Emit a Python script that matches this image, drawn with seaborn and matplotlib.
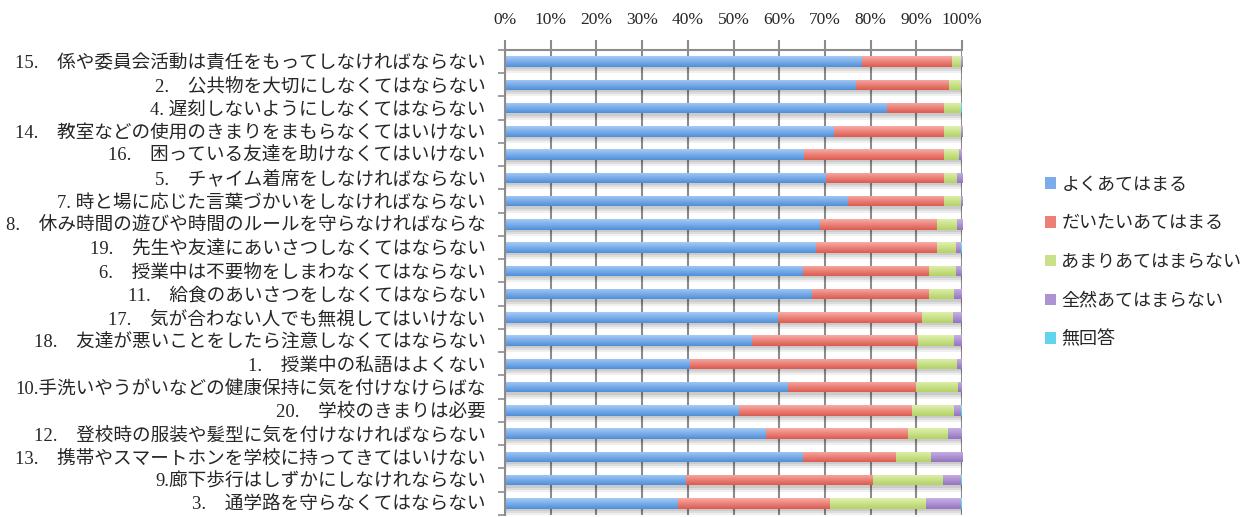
import numpy as np
import pandas as pd
import matplotlib
matplotlib.use("Agg")
import matplotlib.pyplot as plt
import matplotlib.patheffects as pe
from matplotlib.colors import LinearSegmentedColormap
from matplotlib.patches import Patch
import seaborn as sns

# Survey items, top to bottom
items = [
    "15.\u3000係や委員会活動は責任をもってしなければならない",
    "2.\u3000公共物を大切にしなくてはならない",
    "4. 遅刻しないようにしなくてはならない",
    "14.\u3000教室などの使用のきまりをまもらなくてはいけない",
    "16.\u3000困っている友達を助けなくてはいけない",
    "5.\u3000チャイム着席をしなければならない",
    "7. 時と場に応じた言葉づかいをしなければならない",
    "8.\u3000休み時間の遊びや時間のルールを守らなければならな",
    "19.\u3000先生や友達にあいさつしなくてはならない",
    "6.\u3000授業中は不要物をしまわなくてはならない",
    "11.\u3000給食のあいさつをしなくてはならない",
    "17.\u3000気が合わない人でも無視してはいけない",
    "18.\u3000友達が悪いことをしたら注意しなくてはならない",
    "1.\u3000授業中の私語はよくない",
    "10.手洗いやうがいなどの健康保持に気を付けなけらばな",
    "20.\u3000学校のきまりは必要",
    "12.\u3000登校時の服装や髪型に気を付けなければならない",
    "13.\u3000携帯やスマートホンを学校に持ってきてはいけない",
    "9.廊下歩行はしずかにしなけれならない",
    "3.\u3000通学路を守らなくてはならない",
]

# Response shares (%)
very_true = [78.0, 76.6, 83.4, 71.8, 65.3, 70.2, 75.0, 68.8, 68.0, 65.0,
             67.0, 59.7, 53.9, 40.4, 61.9, 51.2, 57.1, 65.0, 39.4, 37.7]
mostly_true = [19.7, 20.4, 12.5, 24.1, 30.6, 25.7, 20.9, 25.6, 26.4, 27.6,
               25.6, 31.4, 36.3, 49.6, 27.9, 37.7, 30.9, 20.4, 41.0, 33.2]
not_really = [1.9, 2.6, 3.7, 3.7, 3.3, 2.9, 3.7, 4.4, 4.1, 5.9,
              5.5, 6.8, 7.9, 8.8, 9.2, 9.2, 8.8, 7.7, 15.3, 21.1]
not_at_all = [0.4, 0.4, 0.1, 0.4, 0.8, 1.2, 0.4, 1.2, 1.2, 1.5,
              1.9, 2.1, 1.9, 1.2, 1.0, 1.6, 3.2, 6.9, 4.0, 7.7]
no_answer = [0.0, 0.0, 0.3, 0.0, 0.0, 0.0, 0.0, 0.0, 0.3, 0.0,
             0.0, 0.0, 0.0, 0.0, 0.0, 0.3, 0.0, 0.0, 0.3, 0.3]

series_names = ["よくあてはまる", "だいたいあてはまる", "あまりあてはまらない",
                "全然あてはまらない", "無回答"]
tick_values = list(range(0, 101, 10))
tick_labels = [f"{v}%" for v in tick_values]

# (top, bottom) shades for each series' vertical gradient
shades = [("#a6cbf8", "#4f8fd9"),
          ("#f8aca5", "#dc5a50"),
          ("#e0f1ae", "#b3d266"),
          ("#c8b1e5", "#9375c0"),
          ("#93e6f6", "#37c1e2")]
mid_colors = ["#7badea", "#eb8077", "#c9e28a", "#ad93d2", "#62d4ec"]

sns.set_style("white")
plt.rcParams["font.family"] = ["Liberation Serif", "Noto Sans CJK JP"]

df = pd.DataFrame({
    "item": items,
    series_names[0]: very_true,
    series_names[1]: mostly_true,
    series_names[2]: not_really,
    series_names[3]: not_at_all,
    series_names[4]: no_answer,
})
cum = df[series_names].cumsum(axis=1)

fig = plt.figure(figsize=(12.5, 5.17), dpi=100)
ax = fig.add_axes([505 / 1250, 2 / 517, 457 / 1250, 465 / 517])

bar_h = 0.46
grey = "#8c8c8c"

# Stacked bars: draw cumulative totals from the outermost series inward
for i in reversed(range(len(series_names))):
    name = series_names[i]
    n0 = len(ax.patches)
    layer = pd.DataFrame({"item": items, "end": cum[name].values})
    sns.barplot(data=layer, x="end", y="item", orient="h", order=items,
                color=mid_colors[i], saturation=1, width=bar_h,
                linewidth=0, ax=ax)
    cmap = LinearSegmentedColormap.from_list(name, list(shades[i]))
    grad = np.linspace(0, 1, 64).reshape(-1, 1)
    for p in ax.patches[n0:]:
        x0, y0 = p.get_x(), p.get_y()
        w, h = p.get_width(), p.get_height()
        if w <= 0:
            continue
        if i == len(series_names) - 1:
            # soft drop shadow under each full row
            p.set_path_effects([
                pe.SimplePatchShadow(offset=(0.5, -4.5), shadow_rgbFace="black",
                                     alpha=0.06),
                pe.SimplePatchShadow(offset=(0.5, -3), shadow_rgbFace="black",
                                     alpha=0.08),
                pe.SimplePatchShadow(offset=(0.5, -1.5), shadow_rgbFace="black",
                                     alpha=0.08),
                pe.Normal()])
        im = ax.imshow(grad, cmap=cmap, aspect="auto", origin="upper",
                       extent=[x0, x0 + w, y0 + h, y0], zorder=2,
                       interpolation="bilinear")
        im.set_clip_path(p)

ax.set_xlim(0, 100)
ax.set_ylim(19.5, -0.5)
ax.set_aspect("auto")
ax.set_xlabel("")
ax.set_ylabel("")

# Percentage axis on top
ax.xaxis.tick_top()
ax.set_xticks(tick_values)
ax.set_xticklabels(tick_labels, fontsize=12.5)
ax.tick_params(axis="x", which="major", direction="out", length=7, width=1.5,
               color=grey, pad=9, top=True, bottom=False, labeltop=True,
               labelbottom=False)
ax.grid(axis="x", color=grey, linewidth=1.5)
ax.grid(axis="y", visible=False)
ax.set_axisbelow(True)

# Category labels, with tick marks between the rows
ax.set_yticks(range(len(items)))
ax.set_yticklabels(items, fontsize=13.4)
ax.tick_params(axis="y", which="major", length=0, pad=14)
ax.set_yticks(np.arange(-0.5, len(items), 1), minor=True)
ax.tick_params(axis="y", which="minor", direction="out", length=5,
               width=1.2, color=grey, left=True)

for side in ["left", "top"]:
    ax.spines[side].set_visible(True)
    ax.spines[side].set_color(grey)
    ax.spines[side].set_linewidth(1.5)
for side in ["right", "bottom"]:
    ax.spines[side].set_visible(False)

handles = [Patch(facecolor=c, edgecolor="none") for c in mid_colors]
fig.legend(handles, series_names, loc="center left",
           bbox_to_anchor=(1036 / 1250, 1 - 262 / 517), frameon=False,
           prop={"family": "Noto Sans CJK JP", "size": 13},
           handlelength=0.6, handleheight=0.6, handletextpad=0.3,
           labelspacing=1.15, borderpad=0)

fig.savefig("out.png", dpi=100)
